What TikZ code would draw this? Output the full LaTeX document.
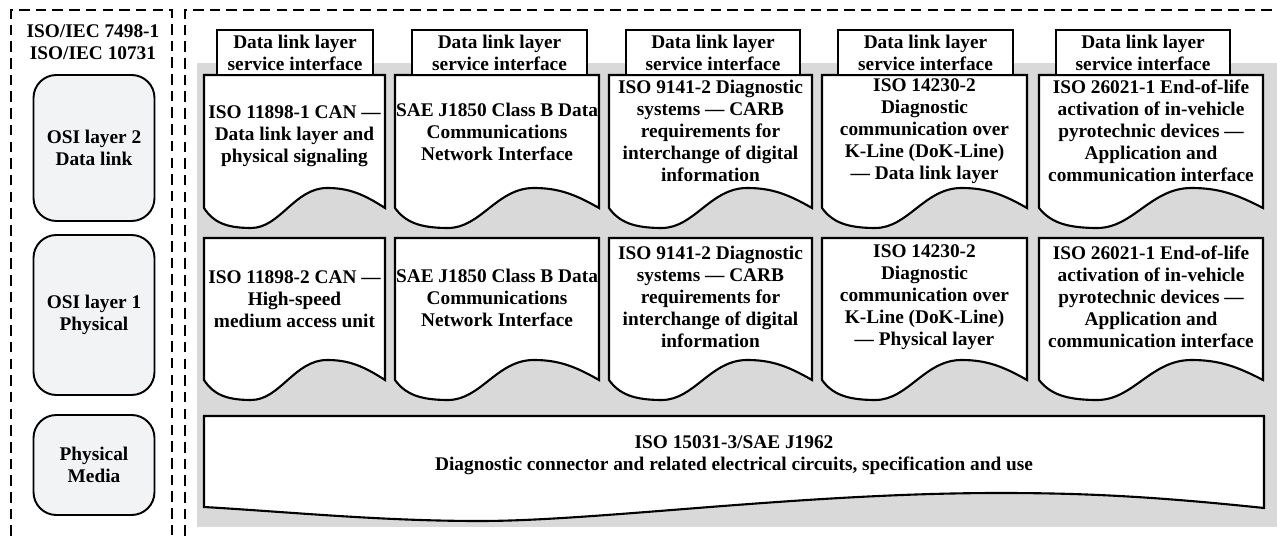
\documentclass[tikz,border=0pt]{standalone}
\usepackage{fontspec}
\setmainfont{Liberation Serif}
\definecolor{bggray}{HTML}{D9D9D9}
\definecolor{osigray}{HTML}{F2F3F5}
\newcommand{\docpath}[4]{%
  \pgfmathsetmacro{\dw}{#2-#1}
  \draw[docline] (#1,#3) -- (#2,#3) -- (#2,#4)
    .. controls ({#2-0.12*\dw},{#4-14}) and ({#1+0.8*\dw},{#4-20}) .. ({#1+0.68*\dw},{#4-20})
    .. controls ({#1+0.5*\dw},{#4-20}) and ({#1+0.42*\dw},{#4+20}) .. ({#1+0.26*\dw},{#4+20})
    .. controls ({#1+0.12*\dw},{#4+20}) and ({#1+0.05*\dw},{#4+14}) .. (#1,#4) -- cycle;}

\begin{document}
\begin{tikzpicture}[x=0.02cm, y=-0.02cm,
    font=\bfseries\fontsize{11}{12.5}\selectfont,
    docline/.style={draw=black, line width=1.2pt, fill=white},
    tab/.style={draw, line width=0.8pt, fill=white, minimum height=0.9cm, inner sep=0pt, align=center},
    osi/.style={draw, line width=1.1pt, fill=osigray, rounded corners=13pt, minimum width=2.42cm, align=center},
    txt/.style={align=center, inner sep=0pt},
    frame/.style={line width=0.75pt, dash pattern=on 6pt off 3.5pt}]
  \useasboundingbox (0,0) rectangle (1277,536);
  \fill[bggray] (197,63) rectangle (1277,527);
  \draw[frame] (11,536) -- (11,10) -- (172,10) -- (172,536);
  \draw[frame] (185,536) -- (185,10) -- (1277,10);

  \node[txt] (osiref) at (93,42) {ISO/IEC 7498-1\\ISO/IEC 10731};
  \node[osi, minimum height=2.92cm] (osi2) at (94,148) {OSI layer 2\\Data link};
  \node[osi, minimum height=3.2cm] (osi1) at (94,315) {OSI layer 1\\Physical};
  \node[osi, minimum height=2cm] (media) at (94,465) {Physical\\Media};

  \docpath{204}{385}{75}{208}
  \docpath{395}{599}{75}{208}
  \docpath{609}{812}{75}{208}
  \docpath{822}{1027}{75}{208}
  \docpath{1039}{1263}{75}{208}
  \docpath{204}{385}{238}{380}
  \docpath{395}{599}{238}{380}
  \docpath{609}{812}{238}{380}
  \docpath{822}{1027}{238}{380}
  \docpath{1039}{1263}{238}{380}
  \draw[docline] (204,416) -- (1264,416) -- (1264,508)
    .. controls (1150,496) and (1080,493) .. (1000,493)
    .. controls (800,493) and (600,521) .. (480,521)
    .. controls (380,521) and (290,512) .. (204,507) -- cycle;

  \node[tab, minimum width=3.12cm] (tab1) at (295,52.5) {Data link layer\\service interface};
  \node[tab, minimum width=3.5cm] (tab2) at (499.5,52.5) {Data link layer\\service interface};
  \node[tab, minimum width=3.48cm] (tab3) at (713,52.5) {Data link layer\\service interface};
  \node[tab, minimum width=3.5cm] (tab4) at (925.5,52.5) {Data link layer\\service interface};
  \node[tab, minimum width=3.48cm] (tab5) at (1143,52.5) {Data link layer\\service interface};

  \node[txt] (can1) at (294.5,136) {ISO 11898-1 CAN —\\Data link layer and\\physical signaling};
  \node[txt] (sae1) at (497,132) {SAE J1850 Class B Data\\Communications\\Network Interface};
  \node[txt] (kw1) at (710.5,131) {ISO 9141-2 Diagnostic\\systems — CARB\\requirements for\\interchange of digital\\information};
  \node[txt] (kline1) at (924.5,131) {ISO 14230-2\\Diagnostic\\communication over\\K-Line (DoK-Line)\\— Data link layer};
  \node[txt] (pyro1) at (1151,131) {ISO 26021-1 End-of-life\\activation of in-vehicle\\pyrotechnic devices —\\Application and\\communication interface};

  \node[txt] (can2) at (294.5,299) {ISO 11898-2 CAN —\\High-speed\\medium access unit};
  \node[txt] (sae2) at (497,298) {SAE J1850 Class B Data\\Communications\\Network Interface};
  \node[txt] (kw2) at (710.5,297) {ISO 9141-2 Diagnostic\\systems — CARB\\requirements for\\interchange of digital\\information};
  \node[txt] (kline2) at (924.5,297) {ISO 14230-2\\Diagnostic\\communication over\\K-Line (DoK-Line)\\— Physical layer};
  \node[txt] (pyro2) at (1151,297) {ISO 26021-1 End-of-life\\activation of in-vehicle\\pyrotechnic devices —\\Application and\\communication interface};

  \node[txt] (conn) at (734,455) {ISO 15031-3/SAE J1962\\Diagnostic connector and related electrical circuits, specification and use};
\end{tikzpicture}
\end{document}
